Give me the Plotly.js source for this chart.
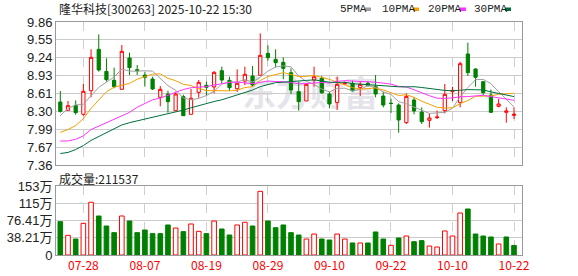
<!DOCTYPE html>
<html><head><meta charset="utf-8">
<script src="https://cdn.plot.ly/plotly-3.0.1.min.js"></script>
<style>html,body{margin:0;padding:0;background:#fff}#chart{width:578px;height:276px}</style>
</head><body><div id="chart"></div>
<script>
// ---- data ----
const dates = ['07-23','07-24','07-25','07-28','07-29','07-30','07-31','08-01','08-04','08-05','08-06','08-07','08-08','08-11','08-12','08-13','08-14','08-15','08-18','08-19','08-20','08-21','08-22','08-25','08-26','08-27','08-28','08-29','09-01','09-02','09-03','09-04','09-05','09-08','09-09','09-10','09-11','09-12','09-15','09-16','09-17','09-18','09-19','09-22','09-23','09-24','09-25','09-26','09-29','09-30','10-09','10-10','10-13','10-14','10-15','10-16','10-17','10-20','10-21','10-22'];
const openP = [8.461,8.316,8.403,8.246,8.659,9.382,8.997,8.840,8.683,9.231,9.027,8.933,8.863,8.543,8.601,8.310,8.555,8.246,8.630,8.753,8.724,9.009,8.840,8.694,8.828,8.916,8.928,9.312,9.207,9.155,8.974,8.642,8.479,8.846,8.875,8.601,8.455,8.780,8.788,8.712,8.788,8.729,8.566,8.440,8.409,8.100,8.496,8.286,8.141,8.188,8.310,8.642,8.450,9.301,9.038,8.817,8.584,8.386,8.281,8.228];
const highP = [8.654,8.479,8.490,8.776,9.382,9.644,9.225,9.062,9.458,9.324,9.108,8.992,8.904,8.741,8.659,8.642,8.590,8.689,8.846,8.817,9.003,9.079,8.904,9.032,9.079,9.091,9.662,9.452,9.382,9.242,9.050,8.817,8.788,9.079,8.916,8.642,8.904,8.820,8.834,8.817,8.828,8.933,8.642,8.520,8.438,8.613,8.543,8.368,8.257,8.310,8.776,8.729,9.166,9.499,9.050,8.828,8.680,8.514,8.368,8.368];
const lowP = [8.275,8.316,8.240,8.222,8.543,8.992,8.817,8.700,8.683,8.933,8.933,8.729,8.671,8.386,8.275,8.310,8.222,8.246,8.537,8.572,8.613,8.788,8.659,8.636,8.759,8.729,8.928,9.184,9.067,8.858,8.601,8.310,8.479,8.729,8.601,8.351,8.321,8.760,8.642,8.566,8.729,8.543,8.368,8.270,7.925,8.077,8.246,8.077,8.013,8.164,8.263,8.479,8.368,8.916,8.729,8.584,8.275,8.368,8.100,8.164];
const closeP = [8.298,8.397,8.275,8.648,9.242,9.021,8.852,8.729,9.347,9.062,9.009,8.893,8.689,8.683,8.467,8.601,8.222,8.526,8.805,8.718,8.980,8.846,8.712,8.788,8.945,8.759,9.277,9.236,9.149,9.050,8.671,8.467,8.770,8.904,8.624,8.426,8.770,8.790,8.659,8.770,8.753,8.601,8.409,8.435,8.147,8.560,8.304,8.117,8.182,8.199,8.595,8.665,9.131,8.974,8.893,8.624,8.281,8.426,8.304,8.246];
// volume in 万 shares
const volume = [73.8,43.6,35.4,70.1,116.7,86.4,64.2,49.5,86.4,75.3,49.5,55.4,47.3,47.3,66.5,59.8,51.7,68.7,52.4,47.3,75.3,57.6,44.3,66.5,72.4,64.2,141.0,75.3,60.5,66.5,49.5,44.3,35.4,46.5,35.4,33.2,46.5,35.4,26.6,26.6,26.6,51.0,35.4,21.4,37.7,42.1,29.5,31.8,19.9,17.7,53.2,42.1,93.0,101.9,46.5,42.1,39.9,24.4,39.9,21.1537];
const ma5 = [8.222,8.35,8.41,8.42,8.572,8.717,8.808,8.898,9.038,9.002,9.000,9.008,9.000,8.867,8.748,8.667,8.532,8.500,8.524,8.574,8.650,8.775,8.812,8.809,8.854,8.810,8.896,9.001,9.073,9.094,9.077,8.915,8.821,8.772,8.687,8.638,8.699,8.703,8.654,8.683,8.748,8.715,8.638,8.593,8.468,8.429,8.370,8.312,8.262,8.272,8.279,8.352,8.554,8.713,8.852,8.857,8.781,8.640,8.506,8.376];
const ma10 = [7.93,7.98,8.05,8.17,8.35,8.50,8.64,8.72,8.76,8.787,8.859,8.908,8.949,8.953,8.875,8.834,8.770,8.750,8.696,8.661,8.659,8.654,8.656,8.667,8.714,8.730,8.836,8.907,8.941,8.974,8.944,8.906,8.911,8.923,8.891,8.858,8.807,8.762,8.713,8.685,8.693,8.707,8.671,8.624,8.576,8.589,8.543,8.475,8.428,8.370,8.354,8.361,8.433,8.488,8.562,8.568,8.567,8.597,8.610,8.614];
const ma20 = [7.78,7.78,7.81,7.87,7.98,8.04,8.10,8.16,8.21,8.28,8.37,8.44,8.50,8.53,8.58,8.64,8.68,8.71,8.72,8.73,8.759,8.781,8.803,8.810,8.795,8.782,8.803,8.829,8.819,8.818,8.802,8.780,8.784,8.795,8.803,8.794,8.822,8.835,8.827,8.830,8.819,8.807,8.791,8.774,8.734,8.724,8.675,8.619,8.571,8.528,8.524,8.534,8.552,8.556,8.569,8.579,8.555,8.536,8.519,8.492];
const ma30 = [7.56,7.58,7.63,7.70,7.79,7.86,7.93,8.00,8.06,8.10,8.13,8.16,8.19,8.22,8.25,8.28,8.32,8.36,8.40,8.43,8.47,8.50,8.54,8.58,8.62,8.67,8.73,8.77,8.80,8.807,8.821,8.823,8.839,8.848,8.827,8.807,8.804,8.806,8.783,8.773,8.765,8.756,8.746,8.738,8.727,8.726,8.729,8.715,8.694,8.676,8.664,8.658,8.672,8.678,8.676,8.672,8.639,8.611,8.584,8.556];
const priceTickVals = [7.36,7.6725,7.985,8.2975,8.61,8.9225,9.235,9.5475,9.86];
const priceTickText = ['7.36','7.67','7.99','8.30','8.61','8.93','9.24','9.55','9.86'];
const volTickVals = [0,38.21,76.41,114.62,152.83];
const volTickText = ['0','38.21万','76.41万','115万','153万'];
const dateTicks = ['07-28','08-07','08-19','08-29','09-10','09-22','10-10','10-22'];
const maNames = ['5PMA','10PMA','20PMA','30PMA'];
const maColors = ['#a0a0a0','#f5a000','#ff33ff','#006f3c'];
const titleText = '隆华科技[300263] 2025-10-22 15:30';
const volLabel = '成交量:211537';
const watermark = '东方财富';

// ---- derived styles ----
const RED = '#ff0000', GREEN = '#008000';
const volUp = closeP.map((c,i)=> c > (i===0 ? openP[0] : closeP[i-1]));
const volFill = volUp.map(u => u ? '#ffffff' : GREEN);
const volLine = volUp.map(u => u ? RED : GREEN);

// pixel helpers for layout decorations (plot spans x 56..522, y 22..255)
const PL=56, PR=522, PT=22, PB=255;
const px = x => (x-PL)/(PR-PL);
const py = y => (PB-y)/(PB-PT);

const traces = [
  {type:'candlestick', x:dates, open:openP, high:highP, low:lowP, close:closeP,
   xaxis:'x', yaxis:'y', whiskerwidth:0,
   increasing:{line:{color:RED,width:1}, fillcolor:'#ffffff'},
   decreasing:{line:{color:GREEN,width:1}, fillcolor:GREEN},
   hoverinfo:'skip'}
];
[ma5,ma10,ma20,ma30].forEach((m,k)=>{
  traces.push({type:'scatter', mode:'lines', x:dates, y:m, xaxis:'x', yaxis:'y',
    line:{color:maColors[k], width:1}, hoverinfo:'skip', name:maNames[k]});
});
traces.push({type:'bar', x:dates, y:volume, xaxis:'x2', yaxis:'y2', width:0.6,
  marker:{color:volFill, line:{color:volLine, width:1}}, hoverinfo:'skip'});

const xr = [-0.56, 60.04];
const axCommon = {showline:true, mirror:true, linecolor:'#999', linewidth:1, zeroline:false, ticks:'', fixedrange:true};
const annotations = [
  {xref:'paper', yref:'paper', x:px(57), y:py(9), xanchor:'left', yanchor:'middle', showarrow:false,
   text:titleText, font:{family:'Noto Sans CJK SC', size:12, color:'#222'}},
  {xref:'paper', yref:'paper', x:px(57), y:py(178), xanchor:'left', yanchor:'middle', showarrow:false,
   text:volLabel, font:{family:'Noto Sans CJK SC', size:12, color:'#222'}}
];
const legX = [338, 380, 426, 472];
const legSq = [365, 413, 460, 505];
const shapes = [
  {type:'rect', xref:'paper', yref:'paper', x0:px(230), x1:px(390), y0:py(115), y1:py(78), layer:'below',
   line:{width:0}, fillcolor:'rgba(0,0,0,0)',
   label:{text:watermark, textposition:'middle center', font:{family:'Noto Sans CJK SC', size:34, color:'#e4e4ea', weight:'bold'}}}
];
maNames.forEach((n,k)=>{
  annotations.push({xref:'paper', yref:'paper', x:px(legX[k]), y:py(9), xanchor:'left', yanchor:'middle',
    showarrow:false, text:n, font:{family:'Liberation Mono', size:11, color:'#222'}});
  shapes.push({type:'rect', xref:'paper', yref:'paper', x0:px(legSq[k]), x1:px(legSq[k]+6), y0:py(11), y1:py(7.5),
    line:{width:0}, fillcolor:maColors[k]});
});

const layout = {
  width:578, height:276, margin:{l:PL, r:578-PR, t:PT, b:276-PB},
  paper_bgcolor:'#fff', plot_bgcolor:'#fff', showlegend:false, boxgap:0.4,
  font:{family:'Liberation Sans, Noto Sans CJK SC', size:13, color:'#222'},
  xaxis:Object.assign({}, axCommon, {type:'category', anchor:'y', domain:[0,1], range:xr, tickvals:dateTicks,
    showticklabels:false, showgrid:true, gridcolor:'#cfcfcf', griddash:'dash', rangeslider:{visible:false}}),
  yaxis:Object.assign({}, axCommon, {domain:[py(165),1], range:[7.36,9.86], tickvals:priceTickVals, ticktext:priceTickText,
    showgrid:true, gridcolor:'#cccccc'}),
  xaxis2:Object.assign({}, axCommon, {type:'category', anchor:'y2', domain:[0,1], range:xr, tickvals:dateTicks,
    showgrid:true, gridcolor:'#cfcfcf', griddash:'dash', tickfont:{family:'Noto Sans CJK SC', size:12, color:RED}}),
  yaxis2:Object.assign({}, axCommon, {domain:[0,py(186)], range:[0,152.83], tickvals:volTickVals, ticktext:volTickText,
    showgrid:true, gridcolor:'#cccccc'}),
  annotations:annotations, shapes:shapes
};
Plotly.newPlot('chart', traces, layout, {staticPlot:true, displayModeBar:false});
</script>
</body></html>
